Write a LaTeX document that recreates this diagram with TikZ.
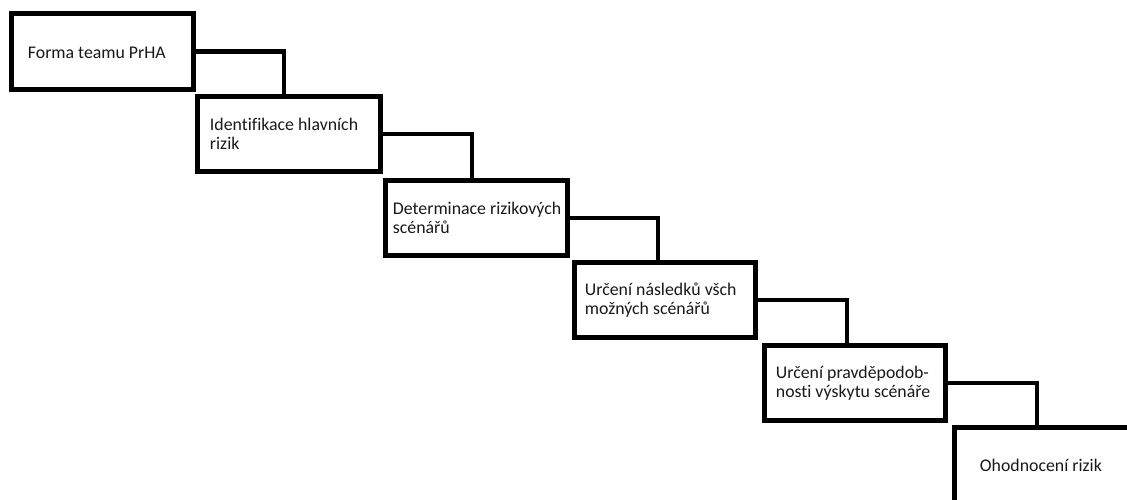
\documentclass[tikz,border=0pt]{standalone}
\usepackage{fontspec}
\setmainfont[Ligatures={NoCommon}]{Carlito}
\begin{document}
\begin{tikzpicture}[x=1pt,y=-1pt,
  stepbox/.style={draw=black,line width=4.5pt,fill=white,inner sep=0pt,minimum height=75pt},
  lbl/.style={anchor=west,align=left,inner sep=0pt,font=\fontsize{17.8}{19.5}\selectfont,text=black!90},
  link/.style={draw=black,line width=4.5pt}]
\useasboundingbox (0,0) rectangle (1127,499);
\clip (0,0) rectangle (1127,499);
\node[stepbox,minimum width=182pt,minimum height=76pt] (b1) at (102.5,51.5) {};
\node[stepbox,minimum width=183pt] (b2) at (289,134) {};
\node[stepbox,minimum width=182pt] (b3) at (476.5,218) {};
\node[stepbox,minimum width=181pt] (b4) at (665,300) {};
\node[stepbox,minimum width=181pt] (b5) at (855,383) {};
\node[stepbox,minimum width=182pt] (b6) at (1045.5,465) {};
\node[lbl] (t1) at ([xshift=18.5pt,yshift=-1pt]b1.west) {Forma teamu PrHA};
\node[lbl] (t2) at ([xshift=14.5pt]b2.west) {Identifikace hlavních\\rizik};
\node[lbl] (t3) at ([xshift=9.5pt]b3.west) {Determinace rizikových\\scénářů};
\node[lbl] (t4) at ([xshift=12.5pt]b4.west) {Určení následků všch\\možných scénářů};
\node[lbl] (t5) at ([xshift=13.5pt]b5.west) {Určení pravděpodob-\\nosti výskytu scénáře};
\node[lbl] (t6) at ([xshift=27.5pt]b6.west) {Ohodnocení rizik};
\draw[link] (b1.east) -| ([xshift=-5pt]b2.north);
\draw[link] (b2.east) -| ([xshift=-4.5pt]b3.north);
\draw[link] (b3.east) -| ([xshift=-7pt]b4.north);
\draw[link] (b4.east) -| ([xshift=-8pt]b5.north);
\draw[link] (b5.east) -| ([xshift=-8.5pt]b6.north);
\end{tikzpicture}
\end{document}
